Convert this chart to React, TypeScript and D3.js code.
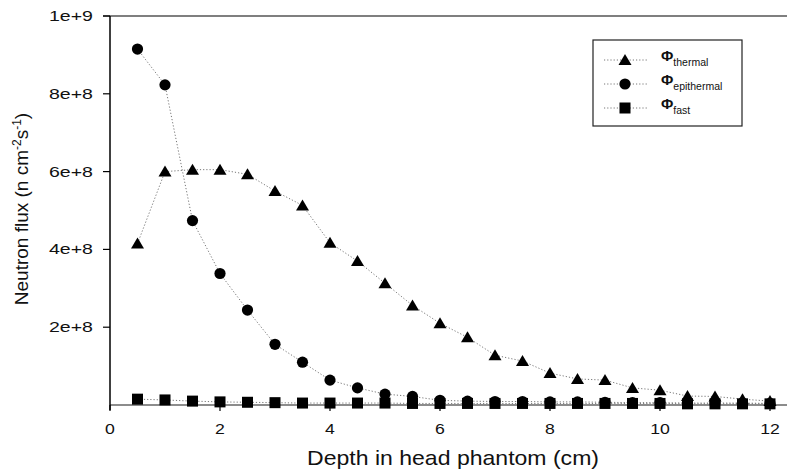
import React from "react";
import * as d3 from "d3";

const depths = [0.5, 1, 1.5, 2, 2.5, 3, 3.5, 4, 4.5, 5, 5.5, 6, 6.5, 7, 7.5, 8, 8.5, 9, 9.5, 10, 10.5, 11, 11.5, 12];
const thermal = [4.15e8, 6.0e8, 6.05e8, 6.05e8, 5.93e8, 5.5e8, 5.13e8, 4.17e8, 3.7e8, 3.13e8, 2.56e8, 2.1e8, 1.74e8, 1.28e8, 1.13e8, 0.82e8, 0.67e8, 0.64e8, 0.44e8, 0.38e8, 0.23e8, 0.22e8, 0.15e8, 0.1e8];
const epithermal = [9.15e8, 8.23e8, 4.74e8, 3.38e8, 2.44e8, 1.56e8, 1.1e8, 0.64e8, 0.44e8, 0.28e8, 0.22e8, 0.12e8, 0.1e8, 0.09e8, 0.09e8, 0.08e8, 0.08e8, 0.07e8, 0.06e8, 0.06e8, 0.05e8, 0.05e8, 0.05e8, 0.04e8];
const fast = [0.15e8, 0.13e8, 0.1e8, 0.08e8, 0.07e8, 0.06e8, 0.05e8, 0.05e8, 0.05e8, 0.05e8, 0.04e8, 0.04e8, 0.04e8, 0.04e8, 0.04e8, 0.04e8, 0.04e8, 0.04e8, 0.04e8, 0.04e8, 0.03e8, 0.03e8, 0.03e8, 0.03e8];
const xTicks = [0, 2, 4, 6, 8, 10, 12];
const yTicks = [2e8, 4e8, 6e8, 8e8, 1e9];
const yTickLabels = ["2e+8", "4e+8", "6e+8", "8e+8", "1e+9"];

const FONT = "Liberation Sans, Arial, sans-serif";

function Marker({ kind, x, y }: { kind: string; x: number; y: number }) {
  if (kind === "tri") {
    return <path d={`M${x},${y - 6}L${x + 6.5},${y + 5}L${x - 6.5},${y + 5}Z`} fill="#000" />;
  }
  if (kind === "circ") {
    return <circle cx={x} cy={y} r={5.6} fill="#000" />;
  }
  return <rect x={x - 5.5} y={y - 5.5} width={11} height={11} fill="#000" />;
}

export default function App() {
  const x = d3.scaleLinear().domain([0, 12.3]).range([110, 786.5]);
  const y = d3.scaleLinear().domain([0, 1e9]).range([405, 16]);
  const series = [
    { name: "thermal", vals: thermal, kind: "tri" },
    { name: "epithermal", vals: epithermal, kind: "circ" },
    { name: "fast", vals: fast, kind: "sq" },
  ];
  const line = d3
    .line<[number, number]>()
    .x((d) => x(d[0]))
    .y((d) => y(d[1]));

  return (
    <svg width={787} height={472} style={{ position: "absolute", left: 0, top: 0, background: "#fff" }}>
      <rect x={0} y={0} width={787} height={472} fill="#fff" />
      {/* top line */}
      <line x1={103} x2={787} y1={y(1e9)} y2={y(1e9)} stroke="#555" strokeWidth={1.5} />
      {/* bottom axis */}
      <line x1={110} x2={787} y1={y(0)} y2={y(0)} stroke="#666" strokeWidth={1.5} />
      {/* left axis */}
      <line x1={110} x2={110} y1={y(1e9)} y2={y(0) + 5} stroke="#000" strokeWidth={1.5} />
      {yTicks.map((t, i) => (
        <g key={t}>
          <line x1={103} x2={110} y1={y(t)} y2={y(t)} stroke="#000" strokeWidth={1.2} />
          <text
            x={49}
            y={y(t) + 5}
            textLength={44}
            lengthAdjust="spacingAndGlyphs"
            fontFamily={FONT}
            fontSize={14.5}
            fill="#111"
          >
            {yTickLabels[i]}
          </text>
        </g>
      ))}
      {xTicks.map((t) => (
        <g key={t}>
          <line x1={x(t)} x2={x(t)} y1={y(0)} y2={y(0) + 6} stroke="#000" strokeWidth={1.2} />
          <text
            transform={`translate(${x(t)},${y(0) + 29}) scale(1.22,1)`}
            textAnchor="middle"
            fontFamily={FONT}
            fontSize={14.5}
            fill="#111"
          >
            {t}
          </text>
        </g>
      ))}
      <text
        x={307}
        y={465}
        textLength={292}
        lengthAdjust="spacingAndGlyphs"
        fontFamily={FONT}
        fontSize={21}
        fill="#111"
      >
        Depth in head phantom (cm)
      </text>
      <text
        transform={`translate(28,${209}) rotate(-90)`}
        textAnchor="middle"
        fontFamily={FONT}
        fontSize={19}
        fill="#111"
      >
        Neutron flux (n cm
        <tspan baselineShift="super" fontSize={12}>-2</tspan>
        s
        <tspan baselineShift="super" fontSize={12}>-1</tspan>)
      </text>
      {series.map((s) => {
        const pts = depths.map((d, i) => [d, s.vals[i]] as [number, number]);
        return (
          <g key={s.name}>
            <path d={line(pts) || ""} fill="none" stroke="#777" strokeWidth={1} strokeDasharray="1.2,2" />
            {pts.map((p, i) => (
              <Marker key={i} kind={s.kind} x={x(p[0])} y={y(p[1])} />
            ))}
          </g>
        );
      })}
      {/* legend */}
      <rect x={593} y={40} width={149} height={86} fill="#fff" stroke="#222" strokeWidth={1.2} />
      {series.map((s, i) => {
        const ly = [60, 84, 108][i];
        return (
          <g key={s.name}>
            <line x1={604} x2={648} y1={ly} y2={ly} stroke="#777" strokeWidth={1} strokeDasharray="1.2,2" />
            <Marker kind={s.kind} x={625} y={ly} />
            <text x={661} y={ly + 1} fontFamily={FONT} fontSize={15} fontWeight={700} fill="#111">
              Φ
              <tspan fontSize={10.5} fontWeight={400} dy={5}>{s.name}</tspan>
            </text>
          </g>
        );
      })}
    </svg>
  );
}
